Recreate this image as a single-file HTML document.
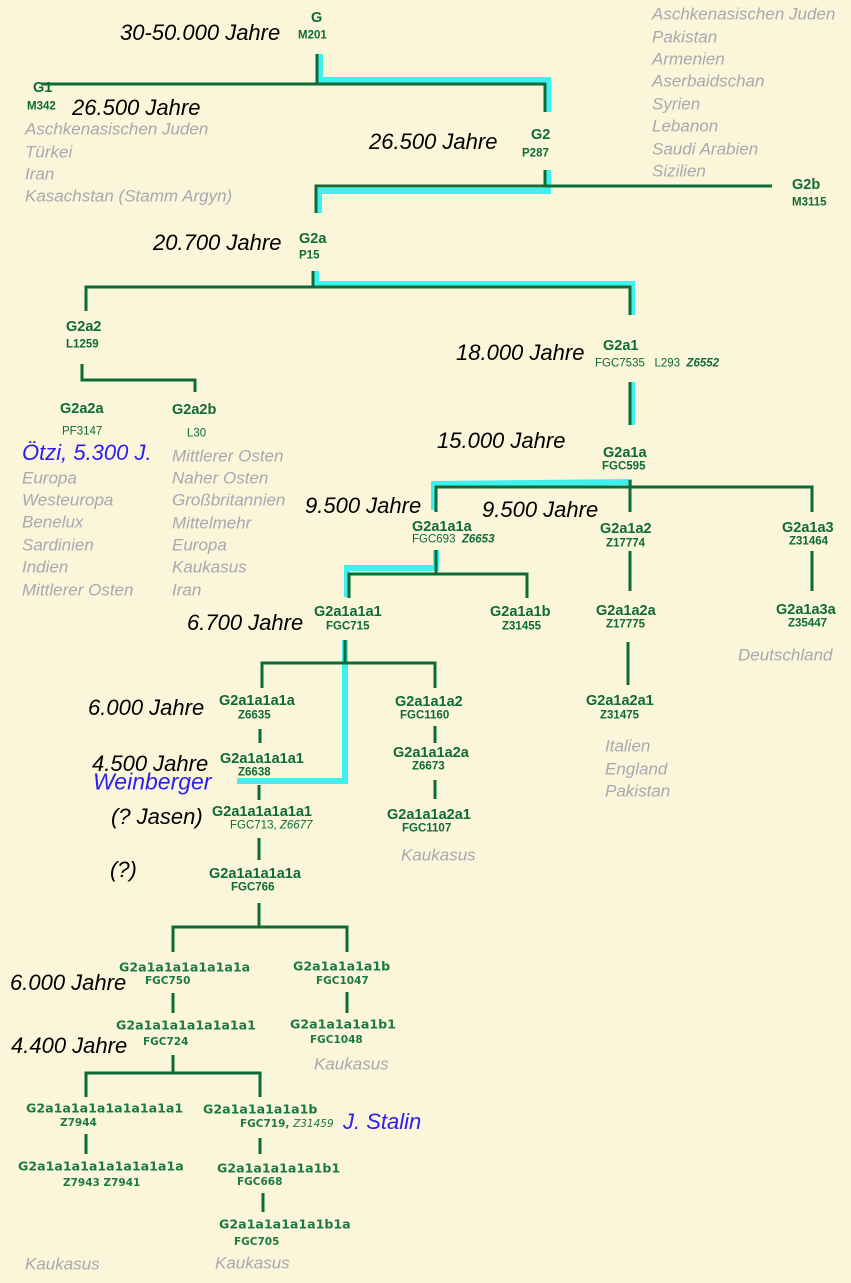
<!DOCTYPE html>
<html><head><meta charset="utf-8"><style>
html,body{margin:0;padding:0}
body{width:851px;height:1283px;background:#fbf5da;position:relative;overflow:hidden;font-family:"Liberation Sans",sans-serif}
.t{position:absolute;white-space:nowrap;line-height:1}
.y{font-style:italic;font-size:22px;color:#000;transform:translateY(-50%)}
.g{font-style:italic;font-size:17px;color:#a8a8b0;transform:translateY(-50%)}
.b{font-style:italic;font-size:22px;color:#2a1ff0;transform:translateY(-50%)}
.n{font-weight:bold;font-size:14.5px;color:#0d6b35;transform:translateY(-50%)}
.c{font-weight:bold;font-size:11.5px;color:#0d6b35;transform:translateY(-50%)}
.m{font-family:"DejaVu Sans",sans-serif;font-weight:bold;font-size:12.6px;color:#1b7a42;transform:translateY(-50%)}
.mc{font-family:"DejaVu Sans",sans-serif;font-weight:bold;font-size:10.5px;color:#1b7a42;transform:translateY(-50%)}
i.z{font-weight:bold;font-style:italic}
svg{position:absolute;left:0;top:0}
</style></head><body>
<svg width="851" height="1283">
<g fill="none" stroke="#3ef0ee" stroke-width="6" stroke-linejoin="miter">
<polyline points="320,54 320,80 548,80 548,112"/>
<polyline points="548,170 548,191 319,191 319,213"/>
<polyline points="316,271 316,284 632,284 632,315"/>
<line x1="632" y1="382" x2="632" y2="425"/>
<polyline points="632,482 434,484 434,510"/>
<polyline points="436,550 436,568 347,568 347,597"/>
<polyline points="345,640 345,781 237,781"/>
</g>
<g fill="none" stroke="#0d6b35" stroke-width="3">
<line x1="317" y1="54" x2="317" y2="84"/>
<polyline points="41,84 545,84 545,112"/>
<line x1="545" y1="170" x2="545" y2="186"/>
<polyline points="316,213 316,186 772,186"/>
<line x1="313" y1="271" x2="313" y2="287"/>
<polyline points="86,311 86,287 630,287 630,315"/>
<line x1="630" y1="382" x2="630" y2="425"/>
<polyline points="82,364 82,380 195,380 195,392"/>
<line x1="630" y1="480" x2="630" y2="512"/>
<polyline points="436,512 436,487 812,487 812,512"/>
<line x1="436" y1="550" x2="436" y2="574"/>
<polyline points="349,598 349,574 527,574 527,598"/>
<line x1="630" y1="551" x2="630" y2="591"/>
<line x1="812" y1="551" x2="812" y2="591"/>
<line x1="628" y1="642" x2="628" y2="685"/>
<line x1="345" y1="640" x2="345" y2="663"/>
<polyline points="262,688 262,663 435,663 435,688"/>
<line x1="260" y1="729" x2="260" y2="743"/>
<line x1="435" y1="726" x2="435" y2="743"/>
<line x1="435" y1="780" x2="435" y2="799"/>
<line x1="259" y1="785" x2="259" y2="800"/>
<line x1="259" y1="838" x2="259" y2="860"/>
<line x1="259" y1="903" x2="259" y2="927"/>
<polyline points="173,952 173,927 347,927 347,952"/>
<line x1="173" y1="993" x2="173" y2="1013"/>
<line x1="347" y1="992" x2="347" y2="1013"/>
<line x1="173" y1="1055" x2="173" y2="1073"/>
<polyline points="86,1097 86,1073 260,1073 260,1097"/>
<line x1="86" y1="1134" x2="86" y2="1154"/>
<line x1="260" y1="1138" x2="260" y2="1154"/>
<line x1="263" y1="1193" x2="263" y2="1212"/>
</g>
</svg>

<div class="t y" style="left:120px;top:33px">30-50.000 Jahre</div>
<div class="t n" style="left:311px;top:18px">G</div>
<div class="t c" style="left:298px;top:36px">M201</div>
<div class="t n" style="left:33px;top:88px">G1</div>
<div class="t c" style="left:27px;top:107px">M342</div>
<div class="t y" style="left:72px;top:108px">26.500 Jahre</div>
<div class="t g" style="left:25px;top:129px">Aschkenasischen Juden</div>
<div class="t g" style="left:25px;top:152px">Türkei</div>
<div class="t g" style="left:25px;top:174px">Iran</div>
<div class="t g" style="left:25px;top:196px">Kasachstan (Stamm Argyn)</div>
<div class="t y" style="left:369px;top:142px">26.500 Jahre</div>
<div class="t n" style="left:531px;top:135px">G2</div>
<div class="t c" style="left:522px;top:154px">P287</div>
<div class="t g" style="left:652px;top:14px">Aschkenasischen Juden</div>
<div class="t g" style="left:652px;top:37px">Pakistan</div>
<div class="t g" style="left:652px;top:59px">Armenien</div>
<div class="t g" style="left:652px;top:81px">Aserbaidschan</div>
<div class="t g" style="left:652px;top:104px">Syrien</div>
<div class="t g" style="left:652px;top:126px">Lebanon</div>
<div class="t g" style="left:652px;top:149px">Saudi Arabien</div>
<div class="t g" style="left:652px;top:171px">Sizilien</div>
<div class="t n" style="left:792px;top:185px">G2b</div>
<div class="t c" style="left:792px;top:203px">M3115</div>
<div class="t y" style="left:153px;top:243px">20.700 Jahre</div>
<div class="t n" style="left:299px;top:239px">G2a</div>
<div class="t c" style="left:299px;top:256px">P15</div>
<div class="t n" style="left:66px;top:327px">G2a2</div>
<div class="t c" style="left:66px;top:345px">L1259</div>
<div class="t y" style="left:456px;top:353px">18.000 Jahre</div>
<div class="t n" style="left:603px;top:346px">G2a1</div>
<div class="t c" style="left:595px;top:364px;font-weight:normal">FGC7535 &nbsp; L293 &nbsp;<i class="z">Z6552</i></div>
<div class="t n" style="left:60px;top:409px">G2a2a</div>
<div class="t c" style="left:62px;top:432px;font-weight:normal">PF3147</div>
<div class="t n" style="left:172px;top:410px">G2a2b</div>
<div class="t c" style="left:187px;top:434px;font-weight:normal">L30</div>
<div class="t b" style="left:22px;top:453px">Ötzi, 5.300 J.</div>
<div class="t g" style="left:22px;top:478px">Europa</div>
<div class="t g" style="left:22px;top:500px">Westeuropa</div>
<div class="t g" style="left:22px;top:522px">Benelux</div>
<div class="t g" style="left:22px;top:545px">Sardinien</div>
<div class="t g" style="left:22px;top:567px">Indien</div>
<div class="t g" style="left:22px;top:590px">Mittlerer Osten</div>
<div class="t g" style="left:172px;top:456px">Mittlerer Osten</div>
<div class="t g" style="left:172px;top:478px">Naher Osten</div>
<div class="t g" style="left:172px;top:500px">Großbritannien</div>
<div class="t g" style="left:172px;top:523px">Mittelmehr</div>
<div class="t g" style="left:172px;top:545px">Europa</div>
<div class="t g" style="left:172px;top:567px">Kaukasus</div>
<div class="t g" style="left:172px;top:590px">Iran</div>
<div class="t y" style="left:437px;top:441px">15.000 Jahre</div>
<div class="t n" style="left:603px;top:453px">G2a1a</div>
<div class="t c" style="left:602px;top:467px">FGC595</div>
<div class="t y" style="left:305px;top:506px">9.500 Jahre</div>
<div class="t y" style="left:482px;top:510px">9.500 Jahre</div>
<div class="t n" style="left:412px;top:527px">G2a1a1a</div>
<div class="t c" style="left:412px;top:540px;font-weight:normal">FGC693 &nbsp;<i class="z">Z6653</i></div>
<div class="t n" style="left:600px;top:529px">G2a1a2</div>
<div class="t c" style="left:606px;top:544px">Z17774</div>
<div class="t n" style="left:782px;top:528px">G2a1a3</div>
<div class="t c" style="left:789px;top:542px">Z31464</div>
<div class="t y" style="left:187px;top:623px">6.700 Jahre</div>
<div class="t n" style="left:314px;top:612px">G2a1a1a1</div>
<div class="t c" style="left:326px;top:627px">FGC715</div>
<div class="t n" style="left:490px;top:612px">G2a1a1b</div>
<div class="t c" style="left:502px;top:627px">Z31455</div>
<div class="t n" style="left:596px;top:611px">G2a1a2a</div>
<div class="t c" style="left:606px;top:625px">Z17775</div>
<div class="t n" style="left:776px;top:610px">G2a1a3a</div>
<div class="t c" style="left:788px;top:624px">Z35447</div>
<div class="t g" style="left:738px;top:655px">Deutschland</div>
<div class="t y" style="left:88px;top:708px">6.000 Jahre</div>
<div class="t n" style="left:219px;top:701px">G2a1a1a1a</div>
<div class="t c" style="left:238px;top:716px">Z6635</div>
<div class="t n" style="left:395px;top:702px">G2a1a1a2</div>
<div class="t c" style="left:400px;top:716px">FGC1160</div>
<div class="t n" style="left:586px;top:701px">G2a1a2a1</div>
<div class="t c" style="left:600px;top:716px">Z31475</div>
<div class="t y" style="left:92px;top:764px">4.500 Jahre</div>
<div class="t b" style="left:93px;top:782px;font-size:23px">Weinberger</div>
<div class="t n" style="left:220px;top:759px">G2a1a1a1a1</div>
<div class="t c" style="left:238px;top:773px">Z6638</div>
<div class="t n" style="left:393px;top:753px">G2a1a1a2a</div>
<div class="t c" style="left:412px;top:767px">Z6673</div>
<div class="t g" style="left:605px;top:746px">Italien</div>
<div class="t g" style="left:605px;top:769px">England</div>
<div class="t g" style="left:605px;top:791px">Pakistan</div>
<div class="t y" style="left:111px;top:817px">(? Jasen)</div>
<div class="t n" style="left:212px;top:812px">G2a1a1a1a1a1</div>
<div class="t c" style="left:230px;top:826px;font-weight:normal">FGC713, <i class="z" style="font-weight:normal">Z6677</i></div>
<div class="t n" style="left:387px;top:815px">G2a1a1a2a1</div>
<div class="t c" style="left:402px;top:829px">FGC1107</div>
<div class="t g" style="left:401px;top:855px">Kaukasus</div>
<div class="t y" style="left:110px;top:870px">(?)</div>
<div class="t n" style="left:209px;top:874px">G2a1a1a1a1a</div>
<div class="t c" style="left:231px;top:888px">FGC766</div>
<div class="t y" style="left:10px;top:983px">6.000 Jahre</div>
<div class="t m" style="left:119px;top:968px">G2a1a1a1a1a1a1a</div>
<div class="t mc" style="left:145px;top:981px">FGC750</div>
<div class="t m" style="left:293px;top:967px">G2a1a1a1a1b</div>
<div class="t mc" style="left:316px;top:981px">FGC1047</div>
<div class="t m" style="left:116px;top:1026px">G2a1a1a1a1a1a1a1</div>
<div class="t mc" style="left:143px;top:1042px">FGC724</div>
<div class="t y" style="left:11px;top:1046px">4.400 Jahre</div>
<div class="t m" style="left:290px;top:1025px">G2a1a1a1a1b1</div>
<div class="t mc" style="left:310px;top:1040px">FGC1048</div>
<div class="t g" style="left:314px;top:1064px">Kaukasus</div>
<div class="t m" style="left:26px;top:1109px">G2a1a1a1a1a1a1a1a1</div>
<div class="t mc" style="left:60px;top:1123px">Z7944</div>
<div class="t m" style="left:203px;top:1110px">G2a1a1a1a1a1b</div>
<div class="t mc" style="left:240px;top:1124px">FGC719, <i style="font-weight:normal">Z31459</i></div>
<div class="t b" style="left:343px;top:1122px">J. Stalin</div>
<div class="t m" style="left:18px;top:1167px">G2a1a1a1a1a1a1a1a1a</div>
<div class="t mc" style="left:63px;top:1183px">Z7943 Z7941</div>
<div class="t m" style="left:217px;top:1169px">G2a1a1a1a1a1b1</div>
<div class="t mc" style="left:237px;top:1182px">FGC668</div>
<div class="t m" style="left:219px;top:1225px">G2a1a1a1a1a1b1a</div>
<div class="t mc" style="left:234px;top:1242px">FGC705</div>
<div class="t g" style="left:25px;top:1264px">Kaukasus</div>
<div class="t g" style="left:215px;top:1263px">Kaukasus</div>
</body></html>
